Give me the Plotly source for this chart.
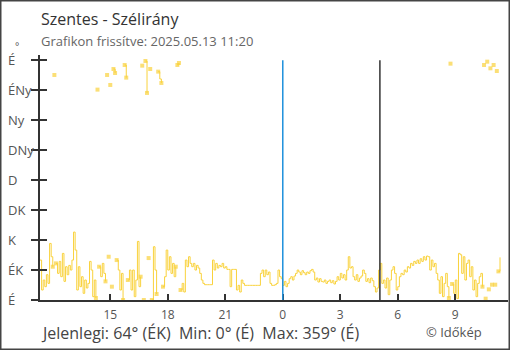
import plotly.graph_objects as go
import pandas as pd

# ---------------- data ----------------
series_start = "2025-05-12 11:20"
sample_minutes = 5
# wind direction in degrees, one value every 5 minutes (11:20 -> 11:20 next day)
directions = [
    60, 15, 30, 20, 38, 25, 85, 65, 50, 338, 55, 40,
    58, 35, 70, 28, 50, 38, 52, 45, 60, 102, 75, 15,
    50, 20, 35, 10, 30, 18, 25, 58, 45, 5, 30, 3,
    316, 50, 35, 55, 40, 28, 338, 65, 323, 20, 347, 341,
    60, 45, 15, 40, 0, 353, 334, 30, 45, 15, 45, 5,
    30, 88, 20, 35, 352, 0, 359, 311, 63, 347, 0, 80,
    45, 9, 343, 332, 326, 20, 35, 75, 45, 65, 40, 55,
    35, 50, 353, 356, 15, 25, 12, 60, 50, 65, 55, 50,
    55, 45, 52, 48, 40, 30, 25, 23, 23, 23, 23, 23,
    60, 45, 55, 48, 52, 50, 55, 48, 50, 46, 46, 20,
    46, 46, 46, 15, 22, 12, 30, 25, 22, 22, 22, 22,
    22, 22, 22, 22, 22, 22, 40, 45, 35, 45, 38, 42,
    25, 22, 22, 23, 25, 45, 35, 32, 22, 28, 20, 25,
    32, 35, 30, 36, 40, 45, 42, 38, 44, 41, 38, 42,
    40, 44, 46, 42, 30, 33, 27, 32, 28, 27, 30, 25,
    28, 30, 26, 29, 24, 28, 35, 30, 40, 33, 38, 30,
    45, 65, 48, 50, 35, 30, 38, 28, 33, 36, 45, 40,
    28, 32, 26, 33, 29, 20, 12, 18, 45, 55, 25, 30,
    18, 33, 8, 30, 45, 50, 40, 15, 20, 35, 40, 38,
    45, 42, 50, 48, 55, 52, 58, 55, 60, 55, 62, 58,
    65, 60, 66, 65, 45, 60, 50, 55, 40, 30, 10, 35,
    5, 25, 40, 20, 3, 355, 24, 10, 30, 2, 70, 68,
    40, 65, 30, 55, 60, 35, 50, 15, 30, 5, 25, 35,
    40, 20, 353, 2, 358, 16, 348, 23, 353, 23, 344, 43, 64,
]

x_range = ["2025-05-12 11:20", "2025-05-13 11:45"]
x_tick_vals = ["2025-05-12 15:00", "2025-05-12 18:00", "2025-05-12 21:00",
               "2025-05-13 00:00", "2025-05-13 03:00", "2025-05-13 06:00",
               "2025-05-13 09:00"]
x_tick_text = ["15", "18", "21", "0", "3", "6", "9"]

y_tick_vals = [0, 45, 90, 135, 180, 225, 270, 315, 360]
y_tick_text = ["É", "ÉK", "K", "DK", "D", "DNy", "Ny", "ÉNy", "É"]
y_range = [0, 368]

midnight = "2025-05-13 00:00"
sunrise = "2025-05-13 05:04"

title_text = "Szentes - Szélirány"
subtitle_text = "Grafikon frissítve: 2025.05.13 11:20"
footer_text = "Jelenlegi: 64° (ÉK)  Min: 0° (É)  Max: 359° (É)"
credit_text = "© Időkép"

LINE_COLOR = "#F9D23C"
AXIS_COLOR = "#333333"

# ---------------- build trace with wrap-around gaps ----------------
times = pd.date_range(series_start, periods=len(directions), freq=f"{sample_minutes}min")
n = len(directions)


def jump(a, b):
    return abs(a - b) > 180


xs, ys, sizes = [], [], []
for i, v in enumerate(directions):
    if i > 0 and jump(directions[i - 1], v):
        xs.append(None)
        ys.append(None)
        sizes.append(0)
    adj = (i > 0 and jump(directions[i - 1], v)) or (i < n - 1 and jump(v, directions[i + 1]))
    xs.append(times[i])
    ys.append(v)
    sizes.append(4 if adj else 0)

W, H = 510, 350
L, R, T, B = 40, 2, 55, 50
PW, PH = W - L - R, H - T - B


def px(xp):
    return (xp - L) / PW


def py(yp):
    return (H - B - yp) / PH


fig = go.Figure()
fig.add_trace(go.Scatter(
    x=xs, y=ys, mode="lines+markers",
    line=dict(color=LINE_COLOR, width=1, shape="hv"),
    marker=dict(symbol="square", size=sizes, color=LINE_COLOR, line=dict(width=0)),
    connectgaps=False, hoverinfo="skip", showlegend=False,
))
# helper trace so the overlay axis (crossing y ticks) is drawn
fig.add_trace(go.Scatter(x=[times[0]], y=[None], yaxis="y2", mode="lines",
                         hoverinfo="skip", showlegend=False))

# vertical reference lines
fig.add_shape(type="line", xref="x", yref="y", x0=midnight, x1=midnight,
              y0=y_tick_vals[0], y1=y_tick_vals[-1],
              line=dict(color="#1E90DC", width=1.5))
fig.add_shape(type="line", xref="x", yref="y", x0=sunrise, x1=sunrise,
              y0=y_tick_vals[0], y1=y_tick_vals[-1],
              line=dict(color="#333333", width=1.5))

# border
fig.add_shape(type="rect", xref="paper", yref="paper",
              x0=px(0.75), x1=px(509.25), y0=py(349.25), y1=py(0.75),
              line=dict(color="#444444", width=1.5), layer="above")

ann = []
for v, t in zip(y_tick_vals, y_tick_text):
    ann.append(dict(xref="paper", yref="y", x=px(6), y=v, text=t, xanchor="left",
                    yanchor="middle", showarrow=False,
                    font=dict(size=13, color="#555555", family="Open Sans")))
ann.append(dict(xref="paper", yref="paper", x=px(13), y=py(46), text="°", xanchor="left",
                yanchor="middle", showarrow=False,
                font=dict(size=10, color="#555555", family="Open Sans")))
ann.append(dict(xref="paper", yref="paper", x=px(39), y=py(19), text=title_text,
                xanchor="left", yanchor="middle", showarrow=False,
                font=dict(size=16, color="#333333", family="Open Sans")))
ann.append(dict(xref="paper", yref="paper", x=px(39), y=py(41), text=subtitle_text,
                xanchor="left", yanchor="middle", showarrow=False,
                font=dict(size=13, color="#666666", family="Open Sans")))
ann.append(dict(xref="paper", yref="paper", x=px(39), y=py(333), text=footer_text,
                xanchor="left", yanchor="middle", showarrow=False,
                font=dict(size=16, color="#444444", family="Open Sans")))
ann.append(dict(xref="paper", yref="paper", x=px(424), y=py(332), text=credit_text,
                xanchor="left", yanchor="middle", showarrow=False,
                font=dict(size=13, color="#555555", family="Open Sans")))

fig.update_layout(
    width=W, height=H,
    margin=dict(l=L, r=R, t=T, b=B, pad=0),
    paper_bgcolor="white", plot_bgcolor="white",
    showlegend=False,
    font=dict(family="Open Sans", color="#555555"),
    annotations=ann,
    xaxis=dict(type="date", range=x_range, tickvals=x_tick_vals, ticktext=x_tick_text,
               ticks="inside", ticklen=6, tickwidth=2, tickcolor=AXIS_COLOR,
               showline=True, linecolor=AXIS_COLOR, linewidth=2,
               showgrid=False, zeroline=False, ticklabelstandoff=3,
               tickfont=dict(size=12, color="#555555")),
    yaxis=dict(range=y_range, tickvals=y_tick_vals, showticklabels=False,
               ticks="outside", ticklen=7, tickwidth=2, tickcolor=AXIS_COLOR,
               showline=True, linecolor=AXIS_COLOR, linewidth=2,
               showgrid=False, zeroline=False),
    yaxis2=dict(range=y_range, tickvals=y_tick_vals, showticklabels=False,
                overlaying="y", side="left", anchor="x",
                ticks="inside", ticklen=7, tickwidth=2, tickcolor=AXIS_COLOR,
                showline=False, showgrid=False, zeroline=False),
)

fig.write_html("out.html")
